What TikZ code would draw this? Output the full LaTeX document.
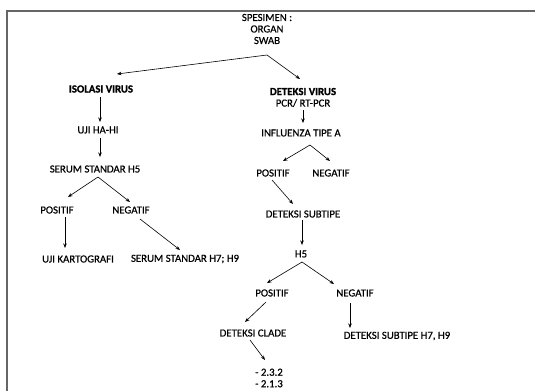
\documentclass[tikz,border=0pt]{standalone}
\usepackage{fontspec}
\setmainfont{Carlito}
\newfontfamily\semib[FakeBold=0.6]{Carlito}
\newfontfamily\headb[BoldFeatures={FakeBold=1.2}]{Carlito}
\usetikzlibrary{positioning, arrows.meta, calc}

\tikzset{
  lbl/.style={inner sep=1pt, font=\semib\fontsize{10.8}{11.5}\selectfont},
  head/.style={lbl, font=\headb\bfseries\fontsize{10.8}{11.5}\selectfont},
  arr/.style={-{Stealth[length=4.5pt,width=3.5pt]}, line width=0.6pt},
  frame/.style={draw=black!60, line width=1.5pt}
}

\begin{document}
\begin{tikzpicture}[x=1pt, y=1pt]
        \useasboundingbox (0,0) rectangle (535,-391);
        \draw[frame] (535,-11) -- (7,-11) -- (7,-391);

        \node[lbl, align=center] (spes) at (267,-29) {SPESIMEN :\\ORGAN\\SWAB};
        \node[head] (iso) at (101,-89) {ISOLASI VIRUS};
        \node[lbl, align=center] (det) at (303,-97.5) {{\headb\bfseries DETEKSI VIRUS}\\PCR/ RT-PCR};

        % jalur isolasi
        \node[lbl] (uji) at (98,-130) {UJI HA-HI};
        \node[lbl] (serum) at (95,-169) {SERUM STANDAR H5};
        \node[lbl] (pos1) at (57,-210) {POSITIF};
        \node[lbl] (neg1) at (131,-210) {NEGATIF};
        \node[lbl] (karto) at (78,-259) {UJI KARTOGRAFI};
        \node[lbl] (serum2) at (185,-259) {SERUM STANDAR H7; H9};

        % jalur deteksi
        \node[lbl] (infl) at (301,-133) {INFLUENZA TIPE A};
        \node[lbl] (pos2) at (273,-173) {POSITIF};
        \node[lbl] (neg2) at (331,-173) {NEGATIF};
        \node[lbl] (sub) at (303,-214) {DETEKSI SUBTIPE};
        \node[lbl] (h5) at (301,-254) {H5};
        \node[lbl] (pos3) at (272,-293) {POSITIF};
        \node[lbl] (neg3) at (355,-293) {NEGATIF};
        \node[lbl] (clade) at (253,-333) {DETEKSI CLADE};
        \node[lbl] (sub2) at (397,-336) {DETEKSI SUBTIPE H7, H9};
        \node[lbl, align=left] (list) at (269,-378) {- 2.3.2\\- 2.1.3};

        \draw[arr] ($(spes)+(0,-26)$) -- ($(iso)+(16,15)$);
        \draw[arr] ($(spes)+(0,-26)$) -- ($(det)+(-3,18.5)$);
        \draw[arr] ($(iso)+(-1,-8)$) -- ($(uji)+(2,8)$);
        \draw[arr] ($(uji)+(2,-8)$) -- ($(serum)+(5,12)$);
        \draw[arr] ($(serum)+(3,-8)$) -- ($(pos1)+(11,13)$);
        \draw[arr] ($(serum)+(3,-8)$) -- ($(neg1)+(-1,8)$);
        \draw[arr] ($(pos1)+(8,-7)$) -- ($(karto)+(-13,11)$);
        \draw[arr] ($(neg1)+(9,-9)$) -- ($(serum2)+(-5,9)$);

        \draw[arr] ($(det)+(0,-12.5)$) -- ($(infl)+(2,10)$);
        \draw[arr] ($(infl)+(9,-12)$) -- ($(pos2)+(10,12)$);
        \draw[arr] ($(infl)+(9,-12)$) -- ($(neg2)+(-1,12)$);
        \draw[arr] ($(pos2)+(-1,-7)$) -- ($(sub)+(-10,10)$);
        \draw[arr] ($(sub)+(-1,-6)$) -- ($(h5)+(1,9)$);
        \draw[arr] ($(h5)+(1,-8)$) -- ($(pos3)+(-5,10)$);
        \draw[arr] ($(h5)+(1,-8)$) -- ($(neg3)+(-21,9)$);
        \draw[arr] ($(pos3)+(-6,-9)$) -- ($(clade)+(-8,11)$);
        \draw[arr] ($(neg3)+(-5,-10)$) -- ($(sub2)+(-47,8)$);
        \draw[arr] ($(clade)+(-3,-7)$) -- ($(list)+(-4,18)$);
\end{tikzpicture}
\end{document}
